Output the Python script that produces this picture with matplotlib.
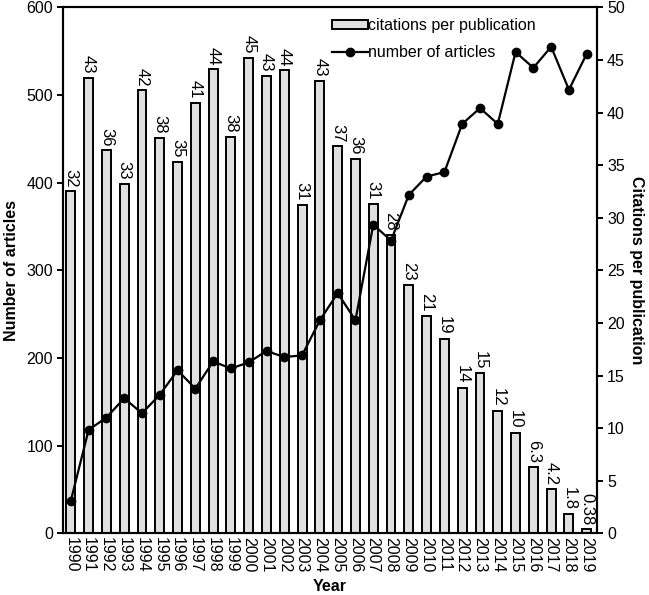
import matplotlib
matplotlib.use("Agg")
import matplotlib.pyplot as plt
import numpy as np

years = [str(y) for y in range(1990, 2020)]
citations = [32.5, 43.3, 36.4, 33.2, 42.1, 37.6, 35.3, 40.9, 44.1, 37.7,
             45.2, 43.5, 44.0, 31.2, 43.0, 36.8, 35.6, 31.3, 28.4, 23.6,
             20.7, 18.5, 13.8, 15.2, 11.6, 9.55, 6.3, 4.2, 1.85, 0.38]
citation_labels = ["32", "43", "36", "33", "42", "38", "35", "41", "44", "38",
                   "45", "43", "44", "31", "43", "37", "36", "31", "28", "23",
                   "21", "19", "14", "15", "12", "10", "6.3", "4.2", "1.8", "0.38"]
articles = [37, 118, 132, 154, 137, 158, 186, 165, 196, 188,
            195, 208, 201, 203, 243, 274, 243, 352, 334, 386,
            407, 412, 467, 485, 467, 549, 531, 555, 506, 547]

plt.rcParams['font.family'] = ['Liberation Sans', 'DejaVu Sans']
plt.rcParams['font.size'] = 11.5

fig = plt.figure(figsize=(6.49, 5.95), dpi=100)
ax = fig.add_axes([0.0976, 0.1037, 0.8218, 0.884])
ax2 = ax.twinx()
ax.set_zorder(ax2.get_zorder() + 1)
ax.patch.set_visible(False)

x = np.arange(len(years))
bars = ax2.bar(x, citations, width=0.5, color='#e0e0e0', edgecolor='black',
               linewidth=1.4, label='citations per publication')
for xi, v, lab in zip(x, citations, citation_labels):
    ax2.annotate(lab, (xi, v), xytext=(0, 3), textcoords='offset points',
                 rotation=270, ha='center', va='bottom', fontsize=12)

line, = ax.plot(x, articles, color='black', linewidth=1.6, marker='o',
                markersize=6, label='number of articles')

ax.set_xlim(-0.42, len(years) - 1 + 0.56)
ax.set_ylim(0, 600)
ax2.set_ylim(0, 50)
ax.set_yticks(range(0, 601, 100))
ax2.set_yticks(range(0, 51, 5))
ax.set_xticks(x)
ax.set_xticklabels(years, rotation=270)
ax.tick_params(axis='x', length=0, pad=3, labelsize=11.5)
ax.tick_params(axis='y', direction='out', length=4, width=1.4, labelsize=11.5)
ax2.tick_params(axis='y', direction='out', length=4, width=1.4, labelsize=11.5)

for a in (ax, ax2):
    for s in a.spines.values():
        s.set_linewidth(1.5)

ax.set_ylabel('Number of articles', fontweight='bold', fontsize=11.5, labelpad=5)
ax2.set_ylabel('Citations per publication', fontweight='bold', fontsize=11.5,
               rotation=270, labelpad=14)
ax.set_xlabel('Year', fontweight='bold', fontsize=11.5, labelpad=4)

ax.legend([bars, line], ['citations per publication', 'number of articles'],
          loc='upper left', bbox_to_anchor=(0.485, 0.997), frameon=False,
          handlelength=2.3, handleheight=0.5, handletextpad=0.0,
          borderaxespad=0.2, labelspacing=0.75, fontsize=11.5)

fig.savefig('out.png', dpi=100)
